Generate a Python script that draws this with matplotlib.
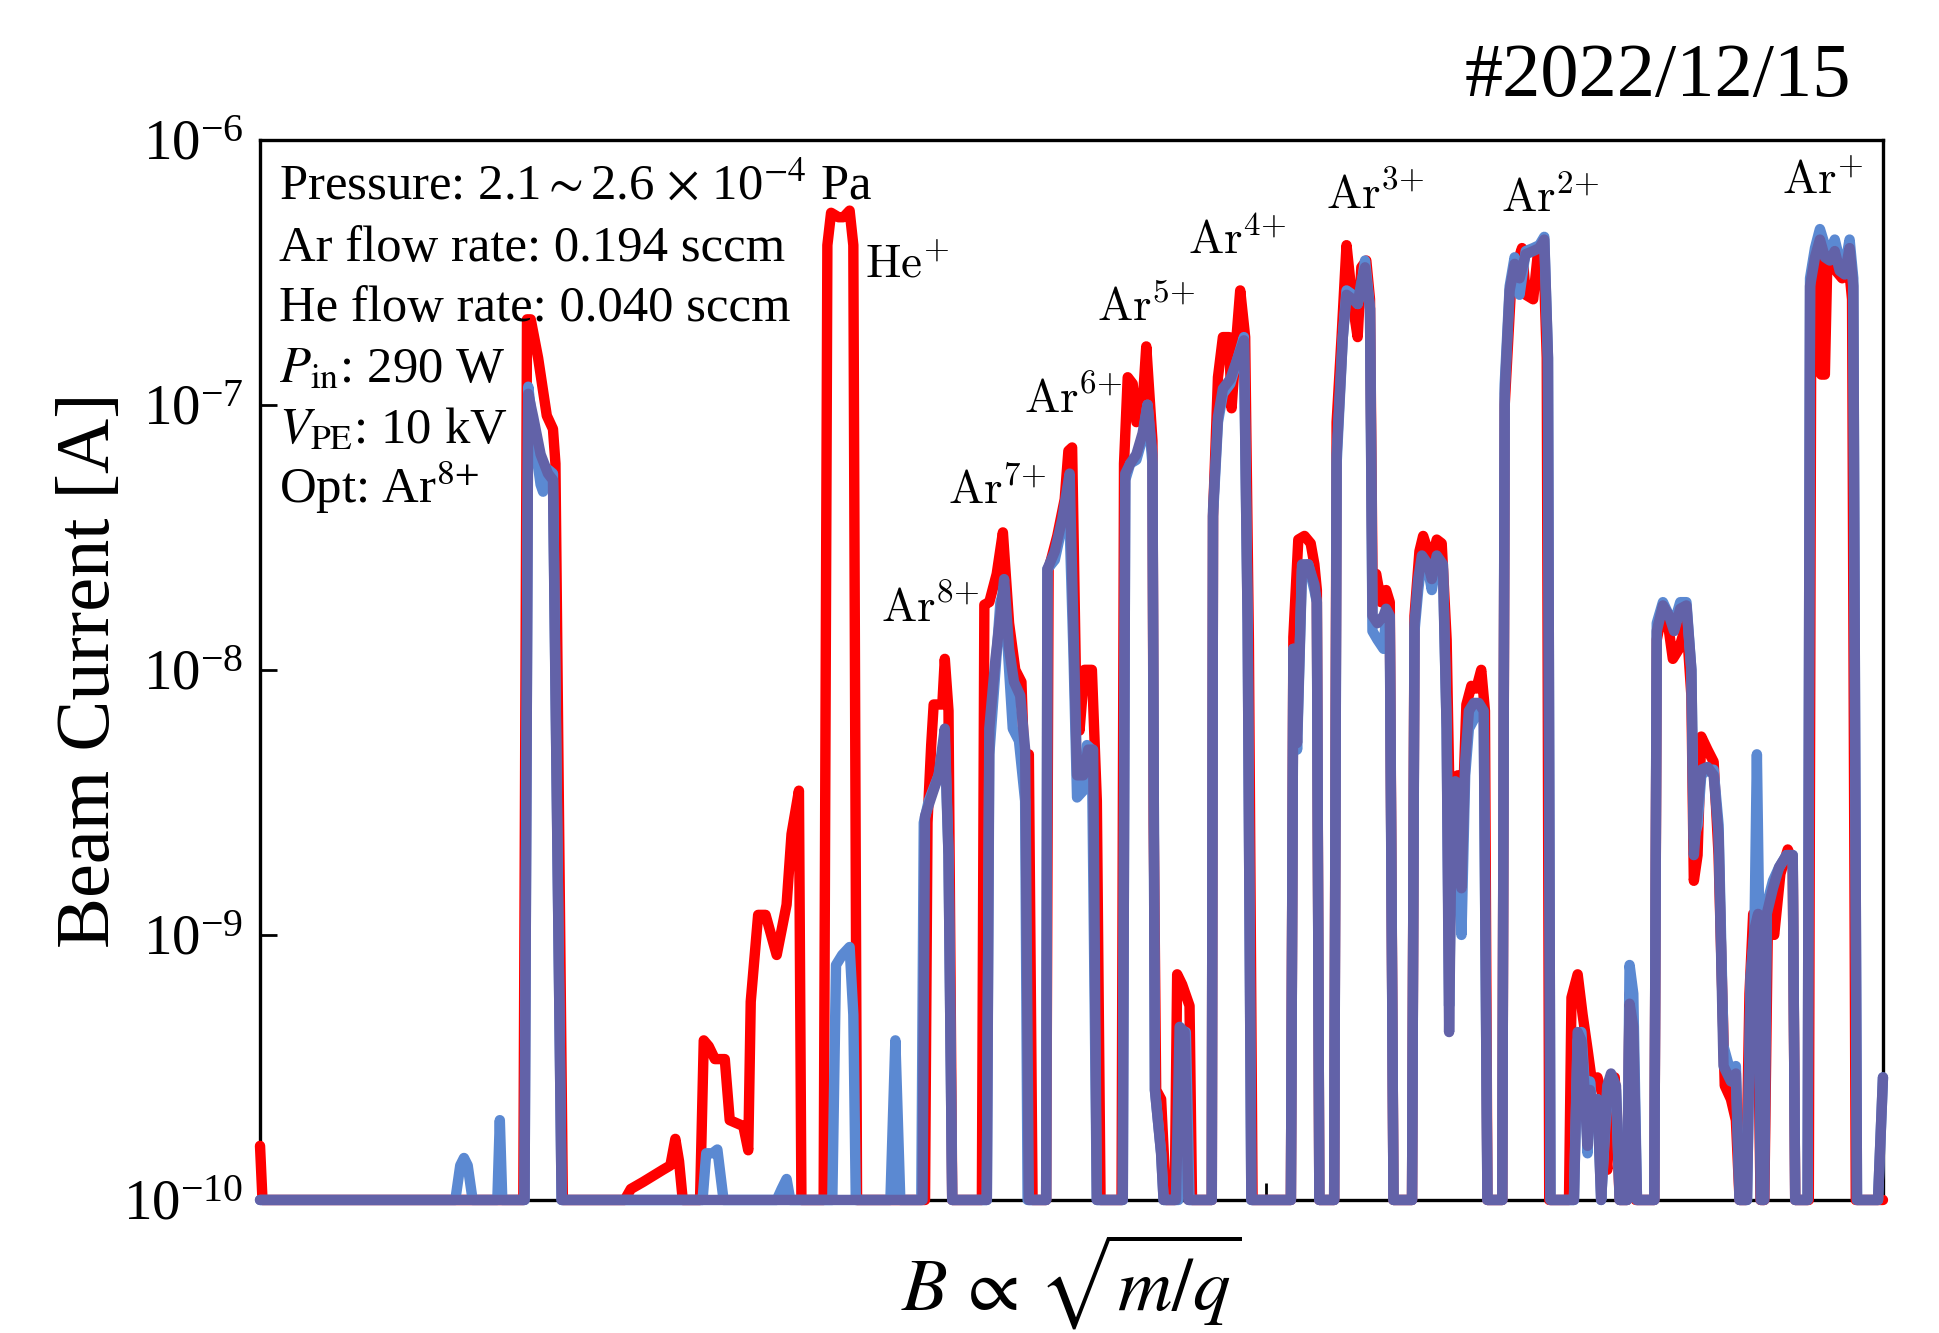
import matplotlib
matplotlib.use("Agg")
import matplotlib.pyplot as plt
from matplotlib.ticker import NullLocator

# ---------------- data (B in arbitrary units, current in A) ----------------
red_pts = [
    (0, 1.6e-10), (2, 1e-10),
    (213, 1e-10), (216, 2.1e-7), (219, 2.1e-7), (225, 1.5e-7), (232, 9.1e-8), (237, 8.1e-8), (239, 6e-8), (245, 1e-10),
    (295, 1e-10), (300, 1.1e-10), (310, 1.17e-10), (320, 1.25e-10), (326, 1.3e-10), (332, 1.35e-10), (336, 1.7e-10), (339, 1.4e-10), (342, 1e-10),
    (356, 1e-10), (359, 4.0e-10), (363, 3.8e-10), (368, 3.4e-10), (376, 3.4e-10), (380, 2.0e-10), (391, 1.9e-10), (395, 1.54e-10),
    (397, 5.6e-10), (403, 1.19e-9), (409, 1.19e-9), (418, 8.4e-10), (426, 1.3e-9), (430, 2.4e-9), (436, 3.5e-9), (438, 1e-10),
    (456, 1e-10), (459, 4e-7), (462, 5.3e-7), (468, 5.1e-7), (472, 5.1e-7), (477, 5.4e-7), (480, 4e-7), (483, 1e-10),
    (538, 1e-10), (540, 2.65e-9), (543, 5.2e-9), (545, 7.4e-9), (552, 7.4e-9), (554, 1.1e-8), (557, 7.0e-9), (560, 1e-10),
    (584, 1e-10), (586, 1.76e-8), (590, 1.8e-8), (596, 2.3e-8), (601, 3.3e-8), (606, 1.5e-8), (611, 1.0e-8), (616, 9e-9), (618, 4.8e-9), (622, 4.8e-9), (625, 1e-10),
    (636, 1e-10), (638, 2.4e-8), (645, 3.2e-8), (651, 4.4e-8), (654, 6.7e-8), (657, 6.9e-8), (660, 1.0e-8), (663, 5.9e-9), (667, 1.0e-8), (673, 1.0e-8), (677, 3.2e-9), (680, 1e-10),
    (697, 1e-10), (699, 6.0e-8), (702, 1.27e-7), (706, 1.2e-7), (709, 8.6e-8), (714, 1.0e-7), (717, 1.66e-7), (722, 7.3e-8), (723, 2.65e-9), (725, 2.6e-10), (729, 2.4e-10), (733, 1e-10),
    (740, 1e-10), (742, 7.1e-10), (746, 6.5e-10), (752, 5.4e-10), (754, 1e-10),
    (770, 1e-10), (771, 3.8e-8), (775, 1.27e-7), (779, 1.8e-7), (784, 1.8e-7), (786, 9.7e-8), (790, 1.8e-7), (793, 2.7e-7), (797, 1.8e-7), (800, 1.3e-8), (803, 1e-10),
    (834, 1e-10), (836, 1.33e-8), (840, 3.1e-8), (845, 3.2e-8), (850, 3.0e-8), (853, 2.5e-8), (855, 2.0e-8), (857, 1e-10),
    (869, 1e-10), (871, 8.6e-8), (875, 1.8e-7), (879, 4.0e-7), (884, 2.4e-7), (888, 1.8e-7), (891, 3.3e-7), (895, 3.5e-7), (898, 2.5e-7),
    (900, 2.3e-8), (903, 2.3e-8), (907, 1.8e-8), (911, 2.0e-8), (914, 1.8e-8), (917, 1e-10),
    (932, 1e-10), (934, 1.6e-8), (938, 2.8e-8), (941, 3.2e-8), (945, 2.8e-8), (948, 2.6e-8), (952, 3.1e-8), (956, 3.0e-8), (960, 1.3e-8),
    (962, 4.0e-9), (964, 1.3e-9), (966, 3.2e-9), (969, 4.0e-9), (973, 3.0e-9), (976, 7.4e-9), (980, 8.7e-9), (984, 8.5e-9), (988, 1.0e-8), (991, 7.0e-9), (993, 1e-10),
    (1005, 1e-10), (1007, 1.0e-7), (1012, 2.7e-7), (1016, 3.3e-7), (1021, 3.9e-7), (1024, 2.6e-7), (1030, 2.5e-7), (1034, 3.8e-7), (1038, 4.1e-7), (1041, 1.5e-7), (1043, 1e-10),
    (1059, 1e-10), (1061, 5.8e-10), (1066, 7.1e-10), (1070, 5.0e-10), (1074, 3.7e-10), (1078, 2.7e-10), (1082, 2.9e-10), (1086, 2.5e-10), (1088, 1.6e-10),
    (1090, 1.3e-10), (1092, 2.6e-10), (1096, 2.9e-10), (1100, 1e-10),
    (1106, 1e-10), (1108, 6.0e-10), (1111, 4.0e-10), (1113, 1e-10),
    (1128, 1e-10), (1130, 1.3e-8), (1134, 1.6e-8), (1139, 1.5e-8), (1143, 1.1e-8), (1148, 1.2e-8), (1154, 1.5e-8), (1158, 8e-9),
    (1160, 1.6e-9), (1163, 2.0e-9), (1166, 5.6e-9), (1171, 5.0e-9), (1176, 4.5e-9), (1180, 2.0e-9), (1185, 2.7e-10), (1190, 2.4e-10), (1194, 2.0e-10), (1197, 1e-10),
    (1202, 1e-10), (1205, 6e-10), (1208, 1.2e-9), (1211, 9e-10), (1214, 1e-10),
    (1217, 1e-10), (1220, 1.2e-9), (1225, 1.0e-9), (1230, 1.7e-9), (1236, 2.1e-9), (1240, 1.9e-9), (1242, 1e-10),
    (1253, 1e-10), (1255, 2.4e-7), (1260, 3.9e-7), (1263, 1.3e-7), (1266, 1.3e-7), (1268, 3.5e-7), (1275, 3.2e-7), (1280, 3.0e-7), (1285, 3.5e-7), (1288, 2.5e-7), (1291, 1e-10),
    (1313, 1e-10),
]

light_pts = [
    (0, 1e-10),
    (158, 1e-10), (162, 1.35e-10), (165, 1.44e-10), (168, 1.35e-10), (172, 1e-10),
    (192, 1e-10), (194, 2.0e-10), (196, 1e-10),
    (214, 1e-10), (217, 1.17e-7), (221, 8e-8), (227, 5.0e-8), (229, 4.7e-8), (233, 5.7e-8), (237, 5.5e-8), (244, 1e-10),
    (358, 1e-10), (361, 1.5e-10), (366, 1.5e-10), (370, 1.55e-10), (375, 1e-10),
    (418, 1e-10), (422, 1.1e-10), (426, 1.2e-10), (429, 1e-10),
    (463, 1e-10), (466, 7.7e-10), (471, 8.4e-10), (477, 9e-10), (480, 5e-10), (482, 1e-10),
    (510, 1e-10), (514, 4.0e-10), (518, 1e-10),
    (535, 1e-10), (537, 2.65e-9), (541, 3.2e-9), (549, 4.0e-9), (554, 5.4e-9), (557, 2e-9), (560, 1e-10),
    (588, 1e-10), (590, 4.8e-9), (595, 1.0e-8), (599, 1.8e-8), (602, 2.0e-8), (606, 1.0e-8), (609, 6e-9), (614, 5.4e-9), (619, 3.2e-9), (621, 1e-10),
    (636, 1e-10), (637, 2.4e-8), (643, 2.6e-8), (649, 3.5e-8), (654, 5.0e-8), (658, 1.2e-8), (661, 3.3e-9), (666, 3.5e-9), (669, 5.2e-9), (673, 5.0e-9), (677, 1e-10),
    (698, 1e-10), (700, 5.2e-8), (704, 6.0e-8), (709, 6.2e-8), (714, 7.5e-8), (718, 1.0e-7), (722, 6.0e-8), (724, 2.6e-10), (729, 1.5e-10), (731, 1e-10),
    (743, 1e-10), (745, 4.3e-10), (749, 4.3e-10), (752, 1e-10),
    (770, 1e-10), (771, 3.8e-8), (775, 8.6e-8), (779, 1.1e-7), (785, 1.2e-7), (791, 1.5e-7), (796, 1.8e-7), (799, 1.5e-8), (802, 1e-10),
    (834, 1e-10), (836, 1.2e-8), (839, 5e-9), (843, 2.4e-8), (848, 2.5e-8), (853, 2.0e-8), (855, 1.8e-8), (857, 1e-10),
    (869, 1e-10), (871, 6.0e-8), (876, 1.8e-7), (879, 2.7e-7), (884, 2.6e-7), (888, 2.4e-7), (891, 2.8e-7), (894, 3.5e-7), (898, 2.3e-7),
    (900, 1.4e-8), (904, 1.3e-8), (909, 1.2e-8), (911, 1.6e-8), (914, 1.5e-8), (917, 1e-10),
    (932, 1e-10), (934, 1.4e-8), (937, 2.0e-8), (940, 2.6e-8), (945, 2.4e-8), (948, 2.0e-8), (952, 2.6e-8), (957, 2.4e-8), (960, 6e-9),
    (962, 5.4e-10), (964, 2.4e-9), (967, 3.5e-9), (970, 2.0e-9), (972, 1.0e-9), (975, 4.0e-9), (978, 6.0e-9), (982, 6.5e-9), (986, 7.0e-9), (990, 6.5e-9), (993, 1e-10),
    (1005, 1e-10), (1007, 1.2e-7), (1011, 2.8e-7), (1015, 3.6e-7), (1019, 2.6e-7), (1024, 3.8e-7), (1030, 3.9e-7), (1035, 4.0e-7), (1039, 4.3e-7), (1042, 1.5e-7), (1044, 1e-10),
    (1063, 1e-10), (1066, 4.0e-10), (1069, 4.3e-10), (1072, 2.6e-10), (1074, 1.5e-10), (1076, 2.8e-10), (1079, 2.0e-10), (1082, 2.4e-10), (1085, 1e-10),
    (1090, 2.6e-10), (1093, 2.9e-10), (1097, 2.6e-10), (1100, 1e-10),
    (1106, 1e-10), (1108, 7.7e-10), (1111, 6e-10), (1114, 1e-10),
    (1128, 1e-10), (1130, 1.5e-8), (1135, 1.8e-8), (1140, 1.6e-8), (1144, 1.5e-8), (1149, 1.8e-8), (1154, 1.8e-8), (1158, 1.0e-8),
    (1160, 2.3e-9), (1163, 2.6e-9), (1166, 4.0e-9), (1171, 4.2e-9), (1176, 4.2e-9), (1180, 2.6e-9), (1184, 3.8e-10), (1190, 3.0e-10), (1194, 3.2e-10), (1197, 1e-10),
    (1203, 1e-10), (1206, 7e-10), (1209, 1.0e-9), (1211, 4.8e-9), (1213, 1.0e-9), (1216, 1e-10),
    (1219, 1.3e-9), (1224, 1.6e-9), (1229, 1.8e-9), (1235, 2.0e-9), (1240, 2.0e-9), (1242, 1e-10),
    (1252, 1e-10), (1254, 3.0e-7), (1258, 3.9e-7), (1262, 4.6e-7), (1266, 4.0e-7), (1270, 3.8e-7), (1274, 4.2e-7), (1278, 3.5e-7), (1282, 3.3e-7), (1286, 4.2e-7), (1289, 3.0e-7), (1292, 1e-10),
    (1309, 1e-10), (1313, 2.9e-10),
]

dark_pts = [
    (0, 1e-10),
    (214, 1e-10), (217, 1.1e-7), (221, 9e-8), (227, 6.5e-8), (233, 5.5e-8), (237, 5.2e-8), (244, 1e-10),
    (536, 1e-10), (538, 2.8e-9), (543, 3.3e-9), (549, 4.0e-9), (554, 6e-9), (557, 2e-9), (560, 1e-10),
    (588, 1e-10), (590, 6e-9), (595, 1.1e-8), (599, 1.6e-8), (602, 2.2e-8), (606, 1.2e-8), (610, 9e-9), (615, 8e-9), (619, 5e-9), (622, 1e-10),
    (636, 1e-10), (637, 2.4e-8), (643, 2.8e-8), (649, 3.7e-8), (655, 5.5e-8), (658, 1.5e-8), (661, 4e-9), (666, 4e-9), (670, 5e-9), (674, 5e-9), (677, 1e-10),
    (698, 1e-10), (700, 5.5e-8), (704, 6.0e-8), (709, 6.5e-8), (714, 7.8e-8), (718, 1.0e-7), (722, 6.5e-8), (724, 2.6e-10), (729, 1.5e-10), (731, 1e-10),
    (741, 1e-10), (744, 4.5e-10), (748, 4.3e-10), (751, 1e-10),
    (770, 1e-10), (771, 4.0e-8), (775, 9e-8), (779, 1.15e-7), (785, 1.25e-7), (791, 1.5e-7), (796, 1.75e-7), (799, 1.5e-8), (802, 1e-10),
    (834, 1e-10), (836, 1.2e-8), (839, 5.3e-9), (843, 2.5e-8), (848, 2.5e-8), (853, 2.1e-8), (855, 1.8e-8), (857, 1e-10),
    (869, 1e-10), (871, 6.5e-8), (876, 1.8e-7), (879, 2.6e-7), (884, 2.5e-7), (888, 2.4e-7), (891, 2.9e-7), (894, 3.3e-7), (898, 2.3e-7),
    (900, 1.6e-8), (904, 1.5e-8), (909, 1.6e-8), (911, 1.7e-8), (914, 1.6e-8), (917, 1e-10),
    (932, 1e-10), (934, 1.5e-8), (937, 2.2e-8), (940, 2.7e-8), (945, 2.5e-8), (948, 2.2e-8), (952, 2.7e-8), (957, 2.5e-8), (960, 6e-9),
    (962, 4.3e-10), (964, 2.6e-9), (967, 3.8e-9), (970, 2.4e-9), (972, 1.5e-9), (975, 4.5e-9), (978, 7.0e-9), (982, 7.5e-9), (986, 7.5e-9), (990, 7.0e-9), (993, 1e-10),
    (1005, 1e-10), (1007, 1.1e-7), (1011, 2.7e-7), (1015, 3.4e-7), (1019, 3.0e-7), (1024, 3.7e-7), (1030, 3.8e-7), (1035, 3.9e-7), (1039, 4.2e-7), (1042, 1.5e-7), (1044, 1e-10),
    (1063, 1e-10), (1066, 4.3e-10), (1069, 4.0e-10), (1072, 2.4e-10), (1074, 1.6e-10), (1076, 2.6e-10), (1079, 2.1e-10), (1082, 2.4e-10), (1085, 1e-10),
    (1090, 2.7e-10), (1093, 3.0e-10), (1097, 2.7e-10), (1100, 1e-10),
    (1106, 1e-10), (1108, 5.5e-10), (1111, 4.5e-10), (1114, 1e-10),
    (1128, 1e-10), (1130, 1.4e-8), (1135, 1.75e-8), (1140, 1.6e-8), (1144, 1.4e-8), (1149, 1.7e-8), (1154, 1.75e-8), (1158, 1.0e-8),
    (1160, 2.0e-9), (1163, 3.0e-9), (1166, 4.2e-9), (1171, 4.3e-9), (1176, 4.0e-9), (1180, 2.4e-9), (1184, 3.2e-10), (1190, 2.8e-10), (1194, 3.0e-10), (1197, 1e-10),
    (1203, 1e-10), (1206, 7e-10), (1209, 1.05e-9), (1212, 1.2e-9), (1214, 1e-10),
    (1217, 1e-10), (1219, 1.2e-9), (1224, 1.5e-9), (1229, 1.8e-9), (1235, 2.0e-9), (1240, 2.0e-9), (1242, 1e-10),
    (1252, 1e-10), (1254, 2.8e-7), (1258, 3.6e-7), (1262, 4.2e-7), (1266, 3.6e-7), (1270, 3.5e-7), (1274, 3.8e-7), (1278, 3.2e-7), (1282, 3.1e-7), (1286, 3.9e-7), (1289, 2.8e-7), (1292, 1e-10),
    (1309, 1e-10), (1313, 2.9e-10),
]

peak_labels = [r"$\mathrm{He}^{{+}}$", r"$\mathrm{Ar}^{8{+}}$", r"$\mathrm{Ar}^{7{+}}$", r"$\mathrm{Ar}^{6{+}}$",
               r"$\mathrm{Ar}^{5{+}}$", r"$\mathrm{Ar}^{4{+}}$", r"$\mathrm{Ar}^{3{+}}$", r"$\mathrm{Ar}^{2{+}}$",
               r"$\mathrm{Ar}^{{+}}$"]
peak_label_pos = [(0.399, 0.881), (0.413, 0.558), (0.454, 0.669), (0.501, 0.755),
                  (0.546, 0.841), (0.602, 0.904), (0.687, 0.947), (0.795, 0.943),
                  (0.963, 0.960)]

info_lines = [r"Pressure: 2.1$\sim$2.6 $\times$ 10$^{-4}$ Pa",
              "Ar flow rate: 0.194 sccm",
              "He flow rate: 0.040 sccm",
              r"$P_{\mathrm{in}}$: 290 W",
              r"$V_{\mathrm{PE}}$: 10 kV",
              r"Opt: Ar$^{8{+}}$"]

title_text = "#2022/12/15"
y_ticks = [1e-10, 1e-9, 1e-8, 1e-7, 1e-6]
x_tick = [814]

# ---------------- style ----------------
plt.rcParams['font.family'] = ['Liberation Serif', 'DejaVu Serif']
plt.rcParams['mathtext.fontset'] = 'cm'

RED = '#ff0000'
LIGHT = '#5b89d2'
DARK = '#6262a8'
LW = 7.5

fig = plt.figure(figsize=(19.39, 13.33), dpi=100)
ax = fig.add_axes([0.1341, 0.0998, 0.8370, 0.7954])

for pts, col in [(red_pts, RED), (light_pts, LIGHT), (dark_pts, DARK)]:
    xs = [p[0] for p in pts]
    ys = [p[1] for p in pts]
    ax.plot(xs, ys, color=col, lw=LW, solid_joinstyle='round',
            solid_capstyle='round', clip_on=False, zorder=3)

ax.set_yscale('log')
ax.set_ylim(1e-10, 1e-6)
ax.set_xlim(0, 1313)
ax.set_yticks(y_ticks)
ax.yaxis.set_minor_locator(NullLocator())
ax.xaxis.set_minor_locator(NullLocator())
ax.set_xticks(x_tick)
ax.set_xticklabels([])
ax.tick_params(axis='both', direction='in', length=12, width=2.0, labelsize=41, pad=12)

for s in ax.spines.values():
    s.set_linewidth(2.4)
    s.set_zorder(2)

ax.set_ylabel("Beam Current [A]", fontsize=55)
ax.yaxis.set_label_coords(-0.083, 0.5)

ax.set_xlabel(r"$B\,\propto\,\sqrt{m/q}$", fontsize=54, math_fontfamily='stix')
ax.xaxis.set_label_coords(0.5, -0.03)

for txt, (fx, fy) in zip(peak_labels, peak_label_pos):
    ax.text(fx, fy, txt, transform=ax.transAxes, fontsize=34,
            ha='center', va='center', zorder=5)

for i, line in enumerate(info_lines):
    ax.text(0.0114, 0.943 - i * 0.0572, line, transform=ax.transAxes,
            fontsize=36.5, ha='left', va='baseline', math_fontfamily='stix', zorder=5)

fig.text(0.9546, 0.928, title_text, fontsize=55, ha='right', va='baseline')

fig.savefig("out.png", dpi=100)
